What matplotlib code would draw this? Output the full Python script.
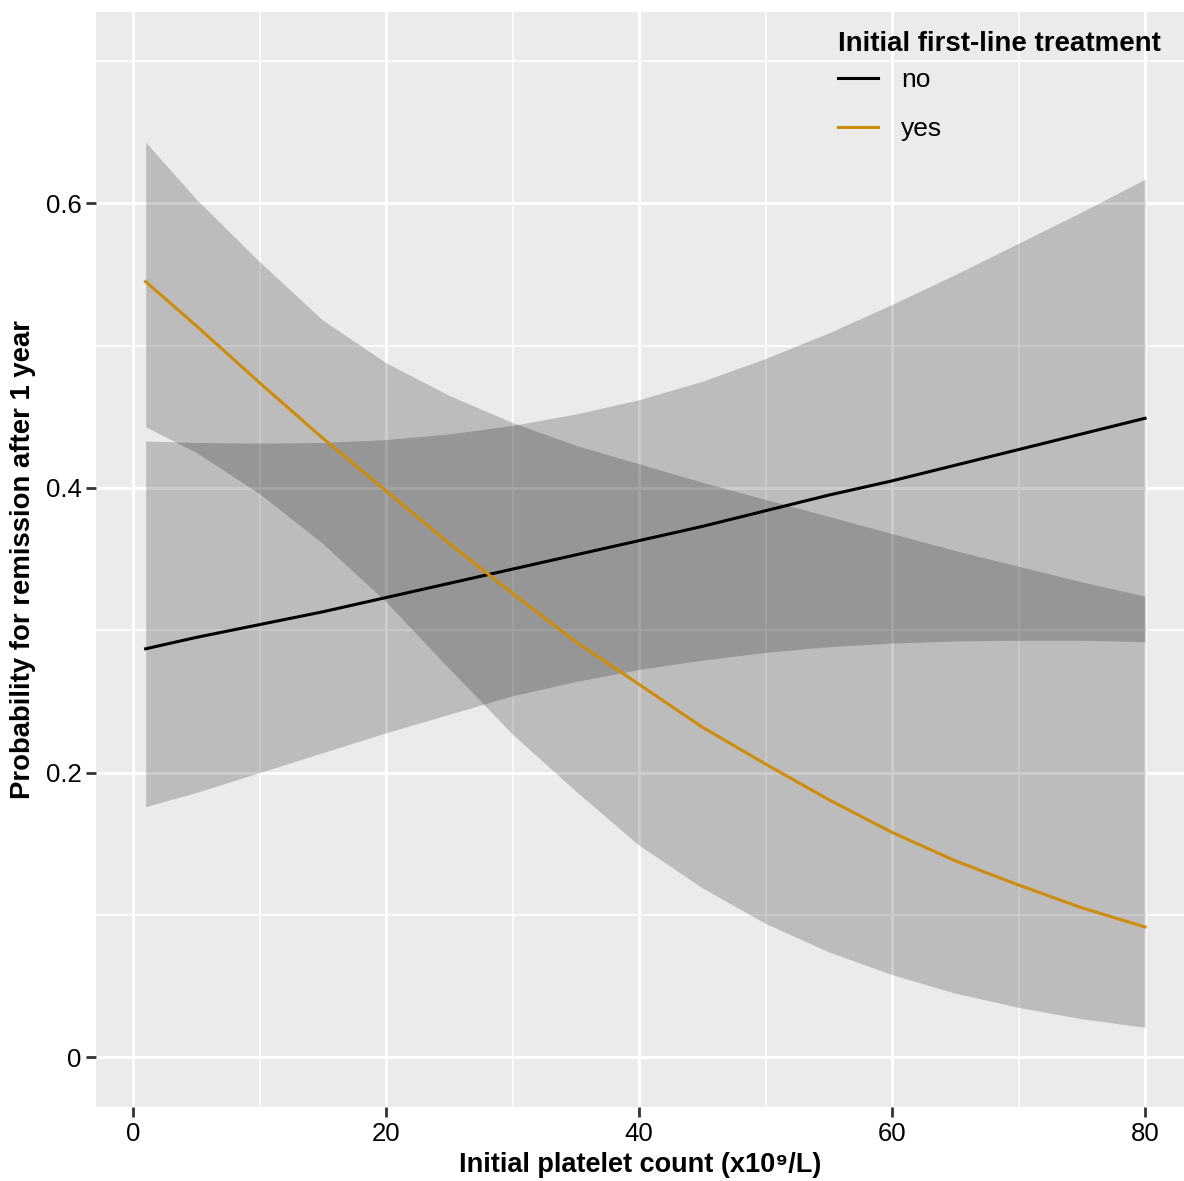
import matplotlib.pyplot as plt

plt.rcParams['font.family'] = ['Liberation Sans', 'DejaVu Sans']

# initial platelet count (x10^9/L)
platelets = [1, 5, 10, 15, 20, 25, 30, 35, 40, 45, 50, 55, 60, 65, 70, 75, 80]

# no initial first-line treatment: fitted probability and 95% band
no_fit = [0.287, 0.295, 0.304, 0.313, 0.323, 0.333, 0.343, 0.353, 0.363,
          0.373, 0.384, 0.395, 0.405, 0.416, 0.427, 0.438, 0.449]
no_low = [0.176, 0.186, 0.200, 0.214, 0.228, 0.241, 0.254, 0.264, 0.2725,
          0.279, 0.2845, 0.2885, 0.291, 0.2925, 0.293, 0.293, 0.292]
no_high = [0.433, 0.432, 0.4315, 0.432, 0.434, 0.438, 0.444, 0.452, 0.462,
           0.475, 0.491, 0.509, 0.529, 0.550, 0.572, 0.594, 0.617]

# initial first-line treatment: fitted probability and 95% band
yes_fit = [0.545, 0.514, 0.474, 0.435, 0.398, 0.361, 0.326, 0.292, 0.262,
           0.232, 0.206, 0.181, 0.158, 0.138, 0.121, 0.105, 0.0915]
yes_low = [0.443, 0.425, 0.396, 0.361, 0.320, 0.273, 0.227, 0.187, 0.149,
           0.119, 0.094, 0.074, 0.058, 0.045, 0.035, 0.027, 0.021]
yes_high = [0.643, 0.603, 0.559, 0.518, 0.488, 0.465, 0.446, 0.430, 0.417,
            0.404, 0.392, 0.380, 0.368, 0.356, 0.345, 0.334, 0.324]

orange = '#CD8C0C'

fig = plt.figure(figsize=(11.84, 11.81), dpi=100)
ax = fig.add_axes([96 / 1184, 1 - 1107 / 1181, 1088 / 1184, 1095 / 1181])
ax.set_facecolor('#EBEBEB')

# confidence bands
ax.fill_between(platelets, no_low, no_high, color='black', alpha=0.2, lw=0)
ax.fill_between(platelets, yes_low, yes_high, color='black', alpha=0.2, lw=0)

# fitted curves
l_no, = ax.plot(platelets, no_fit, color='black', lw=2.2, label='no')
l_yes, = ax.plot(platelets, yes_fit, color=orange, lw=2.2, label='yes')

ax.set_xlim(-2.925, 83.08)
ax.set_ylim(-0.035, 0.7345)
ax.set_xticks([0, 20, 40, 60, 80])
ax.set_xticks([10, 30, 50, 70], minor=True)
ax.set_yticks([0, 0.2, 0.4, 0.6])
ax.set_yticklabels(['0', '0.2', '0.4', '0.6'])
ax.set_yticks([0.1, 0.3, 0.5, 0.7], minor=True)

ax.grid(which='major', color='white', lw=2.2)
ax.grid(which='minor', color='white', lw=1.1)
ax.set_axisbelow(True)
for s in ax.spines.values():
    s.set_visible(False)

ax.tick_params(which='major', length=7, width=2, color='#333333',
               labelsize=18.5, labelcolor='black')
ax.tick_params(axis='x', pad=3.5)
ax.tick_params(axis='y', pad=3.5)
ax.tick_params(which='minor', length=0)

ax.set_xlabel('Initial platelet count (x10\u2079/L)', fontsize=19.5,
              fontweight='bold', labelpad=4.5)
ax.set_ylabel('Probability for remission after 1 year', fontsize=19.8,
              fontweight='bold', labelpad=7)

leg = ax.legend(handles=[l_no, l_yes], title='Initial first-line treatment',
                loc='upper left', bbox_to_anchor=(0.682, 0.9825),
                frameon=False, fontsize=19,
                title_fontproperties={'weight': 'bold', 'size': 19.9},
                alignment='left', handlelength=1.5, handletextpad=0.9,
                labelspacing=0.94, borderpad=0, borderaxespad=0)
# tighter gap between legend title and its entries
leg._legend_box.sep = 7.8

fig.savefig('out.png', dpi=100)
